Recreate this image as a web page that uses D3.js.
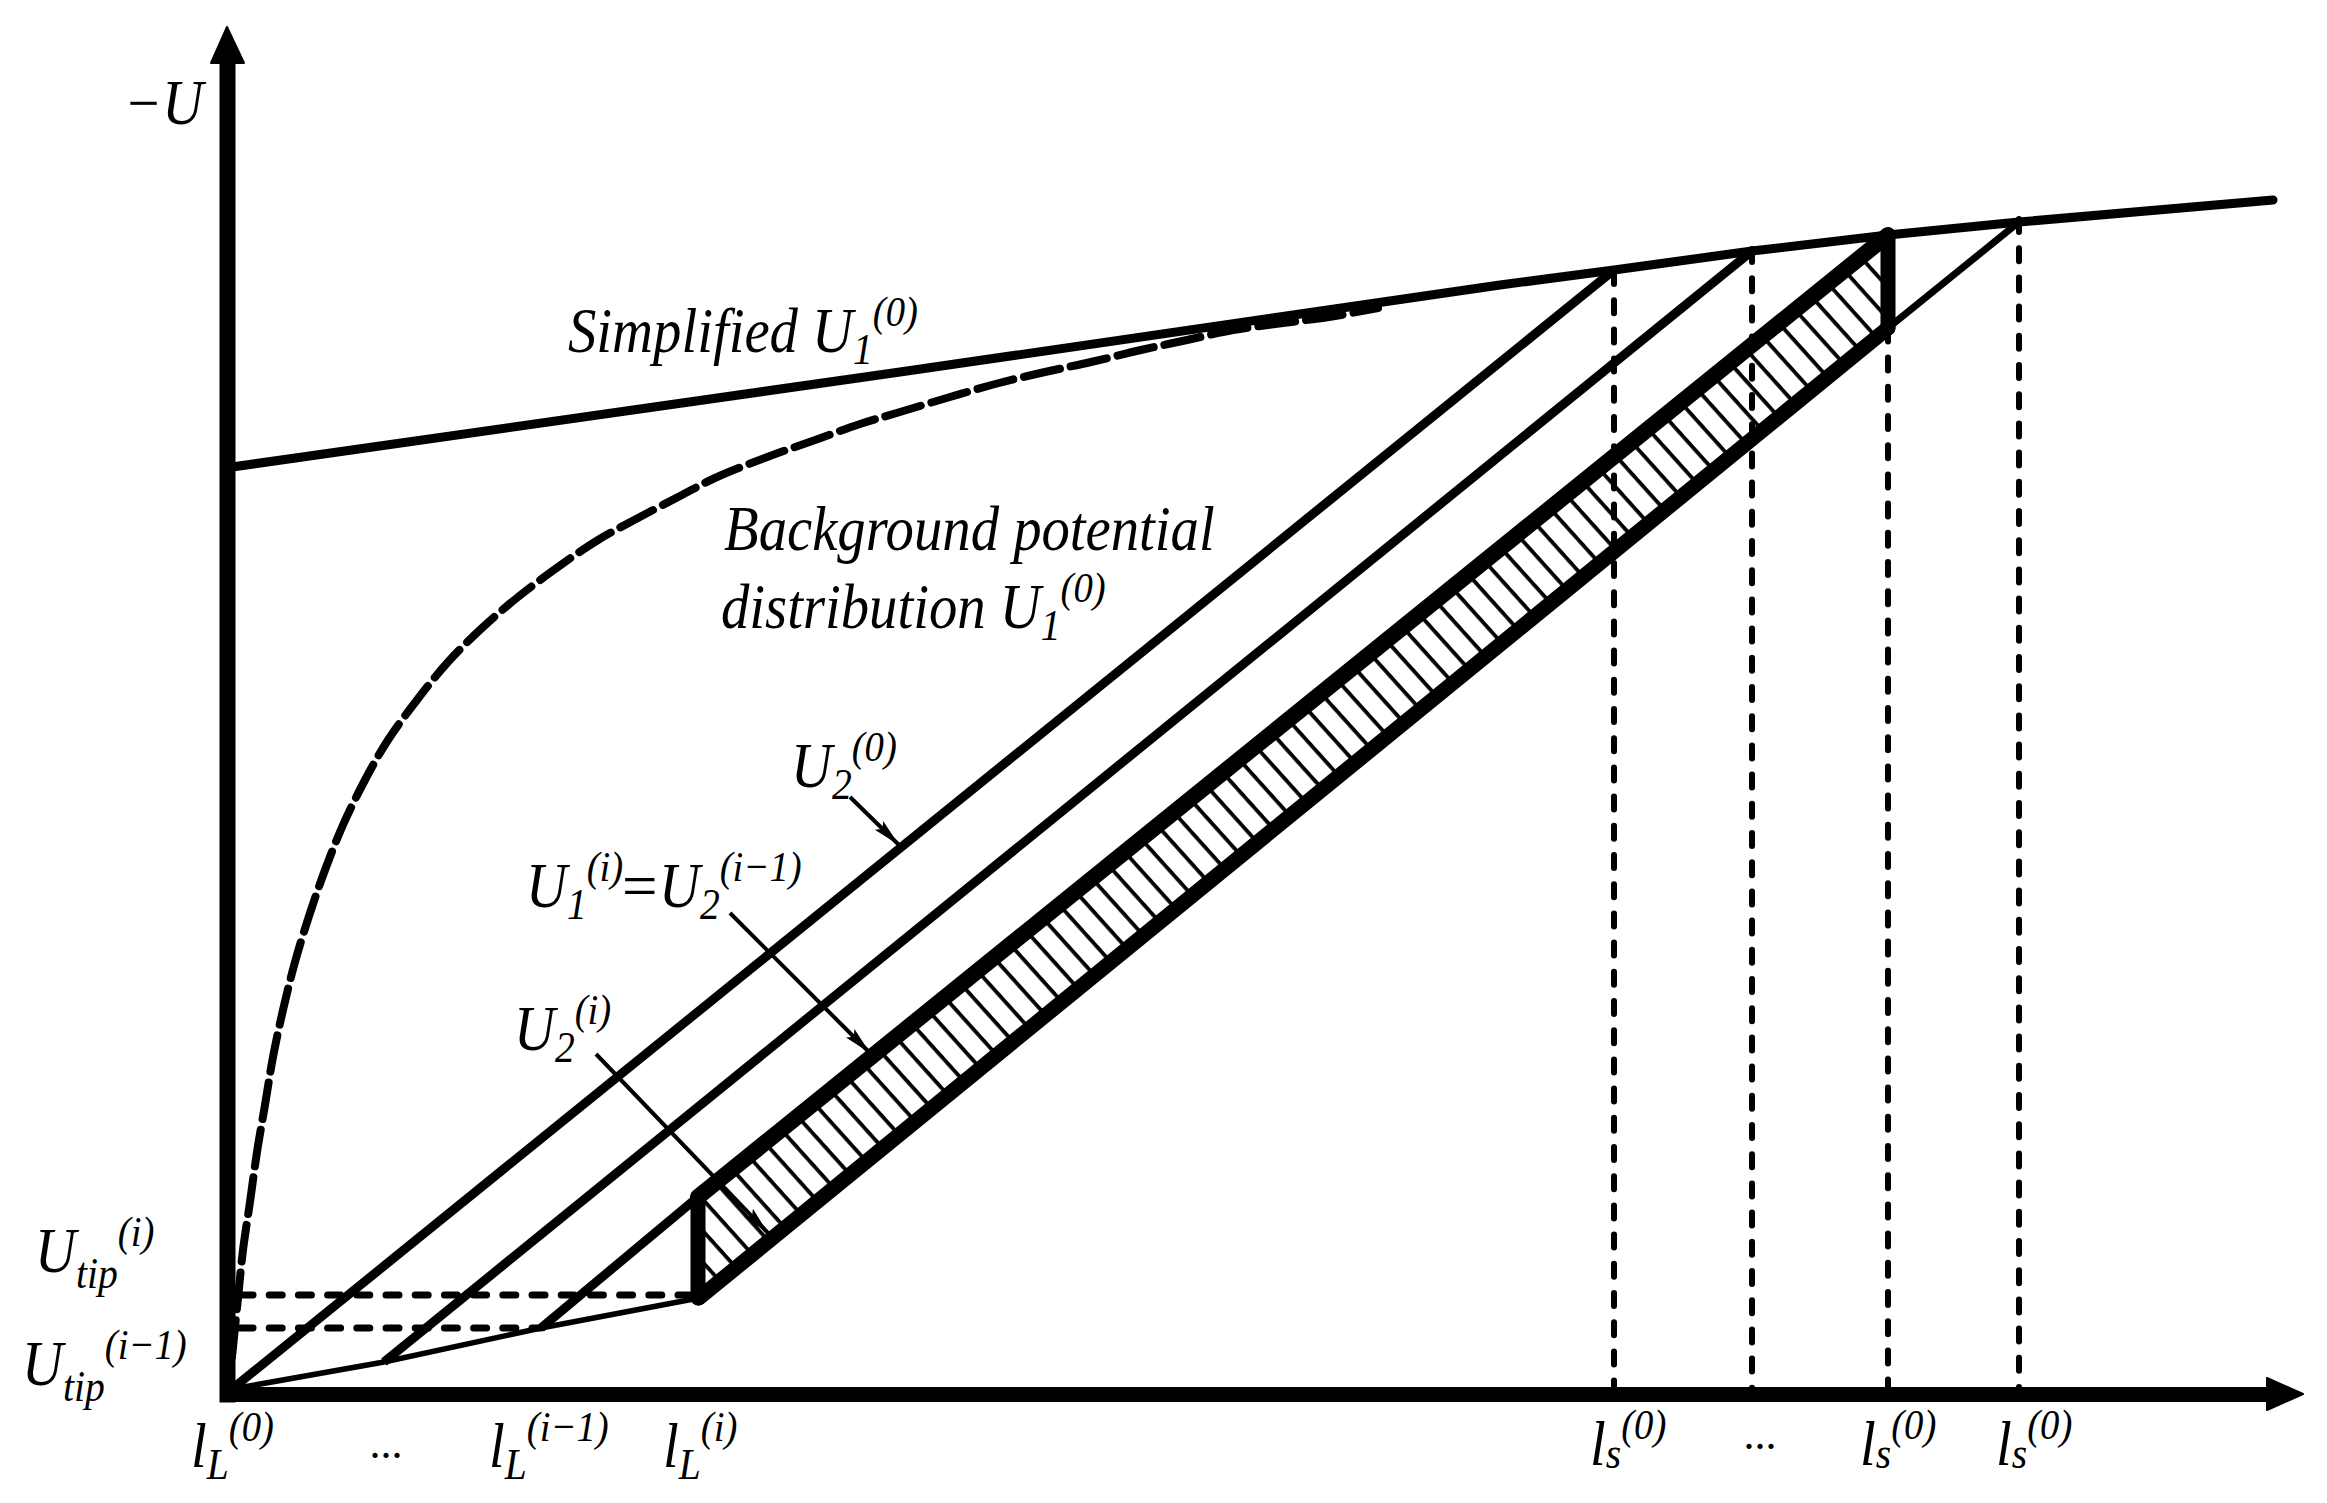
<!DOCTYPE html>
<html>
<head>
<meta charset="utf-8">
<title>Potential distribution</title>
<script src="https://cdn.jsdelivr.net/npm/d3@7"></script>
<style>
    body { margin: 0; background: #fff; }
    text { font-family: "Liberation Serif", serif; font-style: italic; font-size: 63px; fill: #000; }
    .sub { font-size: 44px; }
    .sup { font-size: 43px; }
</style>
</head>
<body>
<svg id="chart" width="2327" height="1503"></svg>
<script>
// Values (axis units, origin at the axis corner)
const simplifiedU1 = [[5, 927], [673, 1022], [1273, 1109], [1387, 1124], [1525, 1143], [1661, 1159], [1792, 1172], [2046, 1194]];
const backgroundU1 = [[5, 37], [11, 96], [16, 144], [23, 192], [30, 242], [38, 289], [46, 337], [56, 384], [68, 432], [83, 481],
    [98, 524], [116, 569], [138, 614], [161, 654], [190, 694], [221, 732], [255, 766], [291, 797], [331, 827], [371, 854],
    [411, 876], [455, 899], [488, 916], [543, 938], [591, 955], [633, 970], [673, 982], [723, 997], [772, 1011], [818, 1022],
    [864, 1032], [914, 1044], [960, 1054], [1006, 1064], [1056, 1071], [1102, 1077], [1151, 1086]];
const u2Zero = [[5, 5], [1387, 1124]];
const u2Middle = [[157, 32], [1525, 1143]];
const u2Lead = [[314, 66], [471, 197]];
const bandUpper = [[471, 197], [1661, 1159]];
const bandLower = [[472, 96], [1661, 1066]];
const u2Tail = [[1661, 1066], [1792, 1172]];
const bandLeft = [[471, 197], [471, 96]];
const bandRight = [[1661, 1159], [1661, 1066]];
const tipLine = [[5, 5], [157, 32], [314, 66], [472, 96]];
const tipDashes = [[[13, 99], [472, 99]], [[13, 66], [314, 66]]];
const dropLines = [[1387, 1123], [1525, 1145], [1661, 1124], [1792, 1175]];
const pointers = [[[623, 597], [672, 549]], [[503, 481], [643, 341]], [[369, 340], [541, 161]]];

const lTicks = [0, 314, 472];
const lSups = ["(0)", "(i\u22121)", "(i)"];
const sTicks = [1387, 1661, 1792];
const sSups = ["(0)", "(0)", "(0)"];

const width = 2327;
const height = 1503;
const svg = d3.select("#chart");

const x = d3.scaleLinear().domain([0, 2076]).range([227, 2303]);
const y = d3.scaleLinear().domain([0, 1367]).range([1394, 27]);
const line = d3.line().x(d => x(d[0])).y(d => y(d[1]));
const curve = d3.line().x(d => x(d[0])).y(d => y(d[1])).curve(d3.curveCatmullRom);

// Hatching of the band between the two thick lines
const defs = svg.append("defs");
const hatch = defs.append("pattern")
    .attr("id", "hatch")
    .attr("patternUnits", "userSpaceOnUse")
    .attr("width", 40)
    .attr("height", 21)
    .attr("patternTransform", "translate(0,8) rotate(48)");
hatch.append("rect").attr("y", 0).attr("width", 40).attr("height", 3.8).attr("fill", "#000");

defs.append("marker")
    .attr("id", "head")
    .attr("markerUnits", "userSpaceOnUse")
    .attr("markerWidth", 30).attr("markerHeight", 14)
    .attr("refX", 28).attr("refY", 7)
    .attr("orient", "auto")
    .append("path").attr("d", "M0,1 L28,7 L0,13 L5,7 Z").attr("fill", "#000");

function stroke(points, w, gen) {
    return svg.append("path")
        .attr("d", (gen || line)(points))
        .attr("fill", "none")
        .attr("stroke", "#000")
        .attr("stroke-width", w);
}

// Band fill
svg.append("path")
    .attr("d", line([bandUpper[0], bandUpper[1], bandRight[1], bandLower[0]]) + "Z")
    .attr("fill", "url(#hatch)");

// Dashed guides
dropLines.forEach(d => {
    stroke([d, [d[0], 5]], 6)
        .attr("stroke-dasharray", "13 16.2")
        .attr("stroke-linecap", "round");
});
tipDashes.forEach(d => {
    stroke(d, 7)
        .attr("stroke-dasharray", "13 16.2")
        .attr("stroke-linecap", "round");
});

// Curves
stroke(simplifiedU1, 9).attr("stroke-linecap", "round");
stroke(backgroundU1, 8, curve)
    .attr("stroke-dasharray", "37 11")
    .attr("stroke-linecap", "round");
stroke(u2Zero, 9);
stroke(u2Middle, 9);
stroke(u2Lead, 9);
stroke(u2Tail, 7);
stroke(tipLine, 5.5);
stroke(bandUpper, 16).attr("stroke-linecap", "round");
stroke(bandLower, 15).attr("stroke-linecap", "round");
stroke(bandLeft, 15).attr("stroke-linecap", "round");
stroke(bandRight, 15).attr("stroke-linecap", "round");

pointers.forEach(d => {
    stroke(d, 4).attr("marker-end", "url(#head)");
});

// Axes stop under the arrow heads
const xAxis = svg.append("g")
    .attr("transform", `translate(0,${y(0)})`)
    .call(d3.axisBottom(x.copy().domain([0, 2040]).range([x(0), x(2040)])).tickValues([]).tickSizeOuter(0));
const yAxis = svg.append("g")
    .attr("transform", `translate(${x(0)},0)`)
    .call(d3.axisLeft(y.copy().domain([0, 1331]).range([y(0), y(1331)])).tickValues([]).tickSizeOuter(0));
xAxis.select(".domain").attr("stroke", "#000").attr("stroke-width", 15).attr("stroke-linecap", "square");
yAxis.select(".domain").attr("stroke", "#000").attr("stroke-width", 16).attr("stroke-linecap", "square");
svg.append("path")
    .attr("d", `M${x(2076)},${y(0)} l-36,-16 v32 Z`)
    .attr("stroke", "#000").attr("stroke-width", 2).attr("stroke-linejoin", "round");
svg.append("path")
    .attr("d", `M${x(0)},${y(1367)} l-16,36 h33 Z`)
    .attr("stroke", "#000").attr("stroke-width", 2).attr("stroke-linejoin", "round");

// Text with stacked subscript and superscript, narrowed like the original lettering
function label(px, py, base, sub, sup, subDy = 12) {
    const t = svg.append("text").attr("transform", `translate(${px},${py}) scale(0.9,1)`);
    t.append("tspan").text(base);
    let back = 0;
    if (sub) {
        t.append("tspan").attr("class", "sub").attr("dy", subDy).text(sub);
        back = subDy;
    }
    if (sup) {
        t.append("tspan").attr("class", "sup").attr("dy", -back - 26).text(sup);
    }
    return t;
}

lTicks.forEach((d, i) => {
    label(x(d) + [-36, -52, -36][i], 1467, "l", "L", lSups[i]);
});
sTicks.forEach((d, i) => {
    label(x(d) + [-24, -28, -23][i], 1465, "l", "s", sSups[i], 3);
});
svg.append("text").attr("x", 386).attr("y", 1458).attr("text-anchor", "middle").style("font-style", "normal").style("font-size", "44px").text("...");
svg.append("text").attr("x", 1760).attr("y", 1449).attr("text-anchor", "middle").style("font-style", "normal").style("font-size", "44px").text("...");

label(124, 124, "\u2212U");
label(35, 1272, "U", "tip", "(i)", 16);
label(22, 1385, "U", "tip", "(i\u22121)", 16);
label(568, 352, "Simplified U", "1", "(0)");
label(724, 550, "Background potential");
label(721, 628, "distribution U", "1", "(0)");
label(791, 787, "U", "2", "(0)");
label(526, 907, "U", "1", "(i)");
svg.append("text").attr("x", 622).attr("y", 907).style("font-style", "normal").text("=");
label(659, 907, "U", "2", "(i\u22121)");
label(514, 1050, "U", "2", "(i)");
</script>
</body>
</html>
